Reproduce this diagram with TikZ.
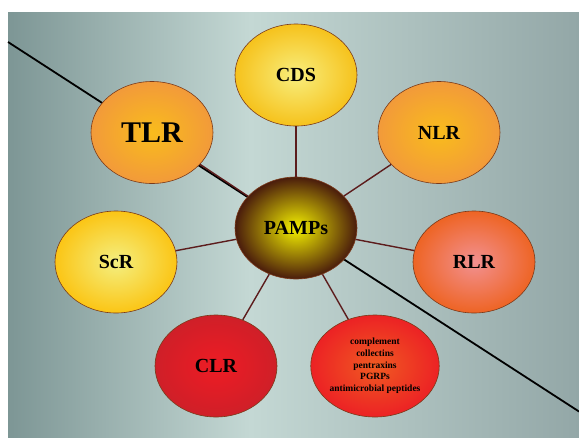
\documentclass[tikz,border=0pt]{standalone}
\usepackage{fontspec}
\setmainfont{Liberation Serif}
\usetikzlibrary{shapes.geometric}
\definecolor{bgdark}{HTML}{7D9695}
\definecolor{bglight}{HTML}{C4D8D4}
\definecolor{bgright}{HTML}{93A7A7}
\definecolor{rim}{HTML}{7A3A1A}
\definecolor{linkcol}{HTML}{5C1C1C}
\tikzset{
    receptor/.style={ellipse, draw=rim, line width=0.6pt, inner sep=0pt,
        minimum width=122pt, minimum height=102pt, shading=radial,
        font=\bfseries\fontsize{20}{22}\selectfont},
    yellowfill/.style={inner color=#1, outer color=yellow!70!orange!95!white},
    link/.style={draw=linkcol, line width=1.4pt},
}

\begin{document}
\begin{tikzpicture}[x=1pt,y=-1pt]
\useasboundingbox (0,0) rectangle (579,437);
\shade[left color=bgdark, right color=bglight] (8,12) rectangle (250,437);
\shade[left color=bglight, right color=bgright] (250,12) rectangle (579,437);
\coordinate (lineA) at (8,42);
\coordinate (lineB) at (579,411.5);
\draw[line width=1.8pt] (lineA) -- (lineB);

\node[receptor, inner color={rgb,255:red,248;green,238;blue,125}, outer color={rgb,255:red,246;green,194;blue,28}] (cds) at (296,75) {CDS};
\node[receptor, inner color={rgb,255:red,249;green,188;blue,28}, outer color={rgb,255:red,242;green,154;blue,58}, font=\bfseries\fontsize{30}{32}\selectfont] (tlr) at (152,132.5) {TLR};
\node[receptor, inner color={rgb,255:red,249;green,188;blue,28}, outer color={rgb,255:red,242;green,154;blue,58}] (nlr) at (439,132.5) {NLR};
\node[receptor, inner color={rgb,255:red,244;green,240;blue,0}, outer color={rgb,255:red,74;green,28;blue,12}] (pamps) at (296,228) {PAMPs};
\node[receptor, inner color={rgb,255:red,244;green,239;blue,128}, outer color={rgb,255:red,251;green,197;blue,21}] (scr) at (116,262) {ScR};
\node[receptor, inner color={rgb,255:red,242;green,144;blue,144}, outer color={rgb,255:red,238;green,100;blue,36}] (rlr) at (474,262) {RLR};
\node[receptor, inner color={rgb,255:red,238;green,28;blue,36}, outer color={rgb,255:red,207;green,31;blue,40}] (clr) at (216,366) {CLR};
\node[receptor, inner color={rgb,255:red,240;green,90;blue,34}, outer color={rgb,255:red,236;green,34;blue,36}, align=center, font=\bfseries\fontsize{9.5}{11.7}\selectfont] (soluble) at (375,366) {complement\\collectins\\pentraxins\\PGRPs\\antimicrobial peptides};

\draw[link] (pamps) -- (cds);
\draw[link] (pamps) -- (tlr);
\draw[link] (pamps) -- (nlr);
\draw[link] (pamps) -- (scr);
\draw[link] (pamps) -- (rlr);
\draw[link] (pamps) -- (clr);
\draw[link] (pamps) -- (soluble);
\end{tikzpicture}
\end{document}
